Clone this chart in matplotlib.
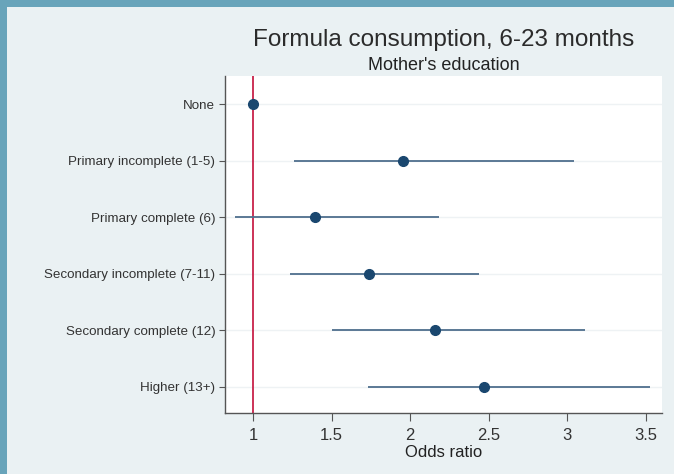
import matplotlib.pyplot as plt
from matplotlib.patches import Rectangle

plt.rcParams['font.family'] = ['Liberation Sans', 'DejaVu Sans']

# Odds ratios with 95% confidence intervals by mother's education
categories = ["None", "Primary incomplete (1-5)", "Primary complete (6)",
              "Secondary incomplete (7-11)", "Secondary complete (12)", "Higher (13+)"]
odds_ratio = [1.0, 1.955, 1.395, 1.74, 2.16, 2.47]
ci_low = [1.0, 1.26, 0.885, 1.235, 1.50, 1.73]
ci_high = [1.0, 3.045, 2.185, 2.44, 3.115, 3.53]
xticks = [1, 1.5, 2, 2.5, 3, 3.5]

W, H = 674, 474
bg = "#eaf1f3"
frame = "#68a4ba"
marker_col = "#1a476f"
ci_col = "#4f6f8d"
ref_col = "#c8224a"

fig = plt.figure(figsize=(W / 100, H / 100), dpi=100, facecolor=bg)

# outer frame, top and left edges
fig.patches.append(Rectangle((0, 1 - 7 / H), 1, 7 / H, transform=fig.transFigure,
                             facecolor=frame, edgecolor="none", zorder=0))
fig.patches.append(Rectangle((0, 0), 7 / W, 1, transform=fig.transFigure,
                             facecolor=frame, edgecolor="none", zorder=0))

left, right, top, bottom = 225, 662, 76, 413
ax = fig.add_axes([left / W, 1 - bottom / H, (right - left) / W, (bottom - top) / H])
ax.set_facecolor("white")

y = list(range(1, len(categories) + 1))

for yi in y:
    ax.axhline(yi, color="#eef2f4", lw=1.0, zorder=0)

ax.axvline(1, color=ref_col, lw=1.3, zorder=1)

ax.hlines(y, ci_low, ci_high, color=ci_col, lw=1.3, zorder=2)
ax.plot(odds_ratio, y, "o", color=marker_col, ms=7, zorder=3)

ax.set_xlim(0.82, 3.605)
ax.set_ylim(6.46, 0.5)
ax.set_yticks(y)
ax.set_yticklabels(categories, fontsize=9.6, color="#333333")
ax.set_xticks(xticks)
ax.set_xticklabels([f"{v:g}" for v in xticks], fontsize=12, color="#333333")
ax.set_xlabel("Odds ratio", fontsize=12, color="#222222", labelpad=1.5)

for s in ["top", "right"]:
    ax.spines[s].set_visible(False)
for s in ["left", "bottom"]:
    ax.spines[s].set_color("#555555")
    ax.spines[s].set_linewidth(1.0)
ax.tick_params(axis="y", color="#555555", length=4, pad=3)
ax.tick_params(axis="x", color="#555555", length=6, pad=5)

fig.text((left + right) / 2 / W, 1 - 40 / H, "Formula consumption, 6-23 months",
         ha="center", va="center", fontsize=17.5, color="#2b2b2b")
fig.text((left + right) / 2 / W, 1 - 65 / H, "Mother's education",
         ha="center", va="center", fontsize=13, color="#222222")

fig.savefig("out.png", dpi=100, facecolor=bg)
